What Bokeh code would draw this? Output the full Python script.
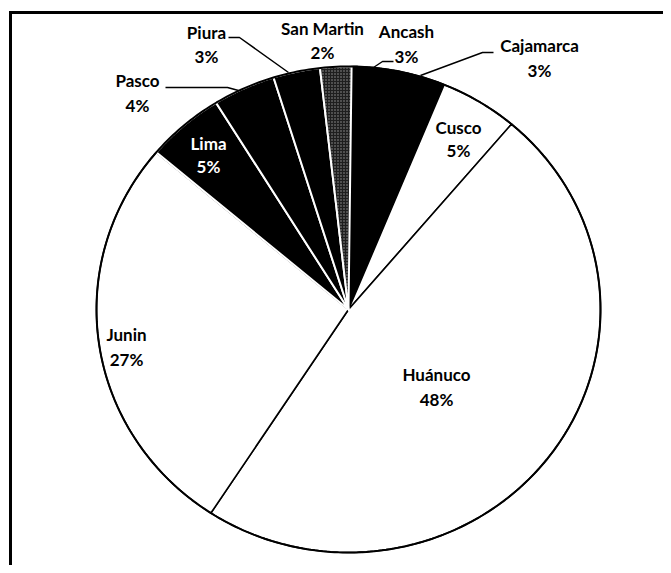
import numpy as np
from bokeh.plotting import figure
from bokeh.models import Range1d, ColumnDataSource
from bokeh.core.properties import value
from bokeh.embed import file_html
from bokeh.resources import INLINE

# ---- data ----
regions = ["Ancash", "Cajamarca", "Cusco", "Huánuco", "Junin", "Lima", "Pasco", "Piura", "San Martin"]
shares = [3, 3, 5, 48, 27, 5, 4, 3, 2]
pct_labels = [f"{s}%" for s in shares]

# ---- styles ----
fill = {"Ancash": "black", "Cajamarca": "black", "Cusco": "white", "Huánuco": "white",
        "Junin": "white", "Lima": "black", "Pasco": "black", "Piura": "black",
        "San Martin": "#1e1e1e"}
edge = {"Ancash": "black", "Cajamarca": "black", "Cusco": "black", "Huánuco": "black",
        "Junin": "black", "Lima": "white", "Pasco": "white", "Piura": "white",
        "San Martin": "white"}
draw_order = ["Ancash", "Cajamarca", "Cusco", "Huánuco", "Junin", "Lima", "Pasco", "Piura", "San Martin"]

# ---- layout (picture pixel coordinates) ----
W, H = 663, 565
cx, cy, rx, ry = 348, 309, 252, 243
offset_deg = 0.7

label_pos = {  # name: (x, y_name, y_pct, color)
    "Ancash": (406, 31, 56, "black"),
    "Cajamarca": (539, 45, 70, "black"),
    "Cusco": (458, 127, 150, "black"),
    "Huánuco": (436, 374, 399, "black"),
    "Junin": (126, 334, 359, "black"),
    "Lima": (208, 143, 166, "white"),
    "Pasco": (137, 80, 105, "black"),
    "Piura": (206, 32, 56, "black"),
    "San Martin": (322, 28, 52, "black"),
}
leaders = [
    ([228, 239, 288], [37, 37, 72]),     # Piura
    ([165, 227, 238], [87, 87, 90]),     # Pasco
    ([393, 382, 373], [61, 61, 67]),     # Ancash
    ([493, 482, 420], [52, 52, 75]),     # Cajamarca
]
frame_x = [W + 10, 10, 10]
frame_y = [12, 12, H + 10]

p = figure(width=W, height=H, x_range=Range1d(0, W), y_range=Range1d(H, 0),
           output_backend="svg", toolbar_location=None,
           x_axis_location=None, y_axis_location=None, min_border=0)
p.grid.visible = False
p.outline_line_color = None
p.background_fill_color = "white"

# wedges as polygons (slightly elliptical, as in the scan)
total = sum(shares)
cum = np.concatenate([[0], np.cumsum(shares)]) / total * 360.0
geo = {}
for i, name in enumerate(regions):
    a0, a1 = np.radians(cum[i] + offset_deg), np.radians(cum[i + 1] + offset_deg)
    t = np.linspace(a0, a1, 80)
    xs = np.concatenate([[cx], cx + rx * np.sin(t)])
    ys = np.concatenate([[cy], cy - ry * np.cos(t)])
    geo[name] = (list(xs), list(ys))

for name in draw_order:
    xs, ys = geo[name]
    kw = {}
    if name == "San Martin":
        kw = dict(hatch_pattern="dot", hatch_color="white", hatch_scale=3, hatch_weight=0.8, hatch_alpha=0.55)
    p.patch(xs, ys, fill_color=fill[name], line_color=edge[name],
            line_width=2 if edge[name] == "white" else 1.6, line_join="miter", **kw)

# outer rim
tt = np.linspace(0, 2 * np.pi, 400)
p.line(cx + rx * np.sin(tt), cy - ry * np.cos(tt), line_color="black", line_width=2)

# leader lines
for xs, ys in leaders:
    p.line(xs, ys, line_color="black", line_width=1.5)

# labels
src = ColumnDataSource(dict(
    x=[label_pos[n][0] for n in regions],
    yn=[label_pos[n][1] for n in regions],
    yp=[label_pos[n][2] for n in regions],
    c=[label_pos[n][3] for n in regions],
    name=regions, pct=pct_labels))
for ycol, tcol in (("yn", "name"), ("yp", "pct")):
    p.text(x="x", y=ycol, text=tcol, source=src, text_color="c",
           text_font=value("Lato"), text_font_style="bold", text_font_size="17px",
           text_align="center", text_baseline="middle")

# frame (only top and left edges are visible in the crop)
p.line(frame_x, frame_y, line_color="black", line_width=3, line_join="miter")

open("out.html", "w").write(file_html(p, INLINE))
